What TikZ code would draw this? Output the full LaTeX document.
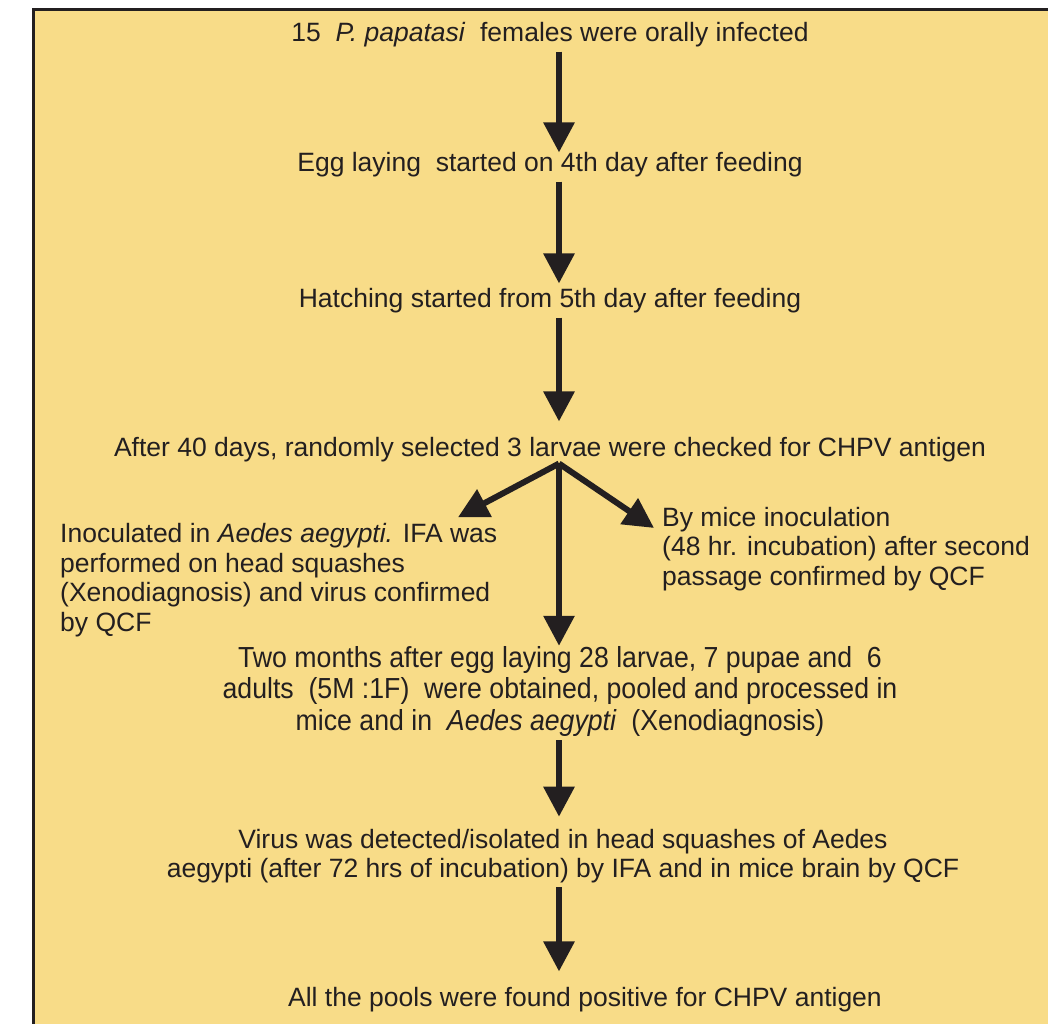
\documentclass[tikz,border=0pt]{standalone}
\usepackage{fontspec}
\setmainfont{Liberation Sans}
\newfontfamily\narrowfont[FakeStretch=0.92]{Liberation Sans}
\usetikzlibrary{positioning, arrows.meta, calc}
\definecolor{paper}{HTML}{F8DC88}
\definecolor{ink}{HTML}{231F20}

\begin{document}
\begin{tikzpicture}[
        x=1pt, y=-1pt,
        stage/.style={text=ink, font=\fontsize{26.5}{29.5}\selectfont, inner sep=0pt, align=center},
        note/.style={stage, align=left, anchor=west},
        flow/.style={-{Triangle[width=30pt, length=30pt]}, line width=6pt, draw=ink, shorten <=4pt}
    ]
    \useasboundingbox (0,0) rectangle (1048,1023);
    \draw[fill=paper, draw=ink, line width=3pt] (33,9) rectangle (1080,1060);
    \coordinate (spine) at (559,0);

    % Main chain
    \node[stage] (infect) at (550,35) {15\ \ \textit{P. papatasi}\ \ females were orally infected};
    \node[stage] (eggs) at (550,165) {Egg laying\ \ started on 4th day after feeding};
    \node[stage] (hatch) at (550,301) {Hatching started from 5th day after feeding};
    \node[stage] (survey) at (550,450) {After 40 days, randomly selected 3 larvae were checked for CHPV antigen};

    % Side branches
    \node[note] (inoc) at (60,580) {Inoculated in \textit{Aedes aegypti.} IFA was\\performed on head squashes\\(Xenodiagnosis) and virus confirmed\\by QCF};
    \node[note] (mice) at (662,549) {By mice inoculation\\(48 hr. incubation) after second\\passage confirmed by QCF};

    % Later stages
    \node[stage, font=\narrowfont\fontsize{29}{31.5}\selectfont] (pooled) at (560,691) {Two months after egg laying 28 larvae, 7 pupae and\ \ 6\\adults\ \ (5M :1F)\ \ were obtained, pooled and processed in\\mice and in\ \ \textit{Aedes aegypti}\ \ (Xenodiagnosis)};
    \node[stage] (virus) at (563,856) {Virus was detected/isolated in head squashes of Aedes\\aegypti (after 72 hrs of incubation) by IFA and in mice brain by QCF};
    \node[stage] (result) at (585,1000) {All the pools were found positive for CHPV antigen};

    % Connections
    \draw[flow] (infect.south -| spine) -- (eggs.north -| spine);
    \draw[flow, shorten >=5pt] (eggs.south -| spine) -- (hatch.north -| spine);
    \draw[flow, shorten >=16pt] (hatch.south -| spine) -- (survey.north -| spine);
    \coordinate (fork) at ($(survey.south -| spine)+(0,1)$);
    \draw[flow, shorten <=0pt] (fork) -- ($(458,0 |- inoc.north)+(0,-6)$);
    \draw[flow, shorten <=0pt] (fork) -- ($(mice.north west)+(-8,21)$);
    \draw[flow, shorten <=0pt] (fork) -- (pooled.north -| spine);
    \draw[flow, shorten >=12pt] (pooled.south -| spine) -- (virus.north -| spine);
    \draw[flow, shorten >=16pt] (virus.south -| spine) -- (result.north -| spine);
\end{tikzpicture}
\end{document}
